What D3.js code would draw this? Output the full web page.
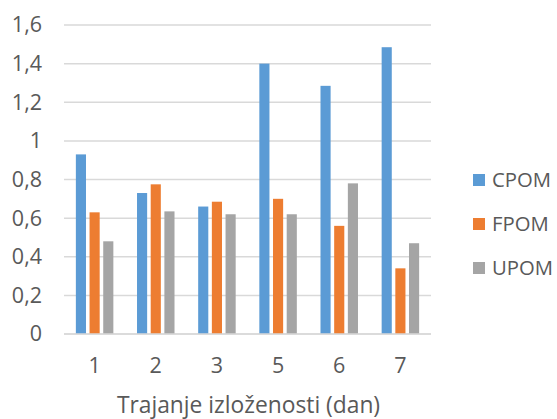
<!DOCTYPE html>
<html>
<head>
<meta charset="utf-8">
<script src="https://cdn.jsdelivr.net/npm/d3@7"></script>
<style>
  html, body { margin: 0; padding: 0; background: #fff; }
  svg { display: block; }
  text { font-family: "Open Sans", "Noto Sans", sans-serif; fill: #595959; }
</style>
</head>
<body>
<svg id="chart" width="557" height="419"></svg>
<script>
// Exposure days (x categories)
const categories = ["1", "2", "3", "5", "6", "7"];
// Series names
const seriesNames = ["CPOM", "FPOM", "UPOM"];
// Values per series, one per category
const cpom = [0.93, 0.73, 0.66, 1.40, 1.285, 1.485];
const fpom = [0.63, 0.775, 0.685, 0.70, 0.56, 0.34];
const upom = [0.48, 0.635, 0.62, 0.62, 0.78, 0.47];
// Y-axis ticks
const yTicks = [0, 0.2, 0.4, 0.6, 0.8, 1, 1.2, 1.4, 1.6];
const colors = ["#5B9BD5", "#ED7D31", "#A5A5A5"];

const seriesValues = [cpom, fpom, upom];

const svg = d3.select("#chart");
const plot = { left: 64, right: 431, top: 25, bottom: 334 };

const y = d3.scaleLinear().domain([0, 1.6]).range([plot.bottom, plot.top]);
const x = d3.scaleBand().domain(categories).range([plot.left, plot.right])
  .paddingInner(0.387).paddingOuter(0.194);
const xs = d3.scaleBand().domain(seriesNames).range([0, x.bandwidth()]).paddingInner(0.26);

// Gridlines
svg.append("g").selectAll("line").data(yTicks).join("line")
  .attr("x1", plot.left).attr("x2", plot.right)
  .attr("y1", d => y(d)).attr("y2", d => y(d))
  .attr("stroke", "#D9D9D9").attr("stroke-width", 1.5);

// Y axis labels
const fmt = d => String(d).replace(".", ",");
const yAxis = d3.axisLeft(y).tickValues(yTicks).tickFormat(fmt).tickSize(0).tickPadding(0);
const gy = svg.append("g").attr("transform", "translate(42,0)").call(yAxis);
gy.select(".domain").remove();
gy.selectAll("text").attr("font-size", 21.5).attr("fill", "#595959")
  .style("font-family", '"Open Sans", sans-serif');

// Bars
const groups = svg.append("g").selectAll("g").data(seriesNames).join("g")
  .attr("fill", (d, i) => colors[i]);
groups.each(function (name, si) {
  d3.select(this).selectAll("rect").data(seriesValues[si]).join("rect")
    .attr("x", (d, i) => x(categories[i]) + xs(name))
    .attr("width", xs.bandwidth())
    .attr("y", d => y(d))
    .attr("height", d => y(0) - y(d));
});

// Baseline
svg.append("line").attr("x1", plot.left).attr("x2", plot.right)
  .attr("y1", y(0)).attr("y2", y(0)).attr("stroke", "#D9D9D9").attr("stroke-width", 1.5);

// X axis labels
const xAxis = d3.axisBottom(x).tickSize(0).tickPadding(0);
const gx = svg.append("g").attr("transform", "translate(0,358)").call(xAxis);
gx.select(".domain").remove();
gx.selectAll("text").attr("font-size", 21.5).attr("fill", "#595959")
  .style("font-family", '"Open Sans", sans-serif');

// X axis title
svg.append("text").attr("x", (plot.left + plot.right) / 2 + 1).attr("y", 413)
  .attr("text-anchor", "middle").attr("font-size", 22.8)
  .text("Trajanje izloženosti (dan)");

// Legend
const legend = svg.append("g").selectAll("g").data(seriesNames).join("g")
  .attr("transform", (d, i) => `translate(473,${180 + i * 44})`);
legend.append("rect").attr("x", 0).attr("y", -6).attr("width", 12).attr("height", 12)
  .attr("fill", (d, i) => colors[i]);
legend.append("text").attr("x", 19).attr("y", 0).attr("dy", "0.35em")
  .attr("font-size", 20.3).text(d => d);
</script>
</body>
</html>
